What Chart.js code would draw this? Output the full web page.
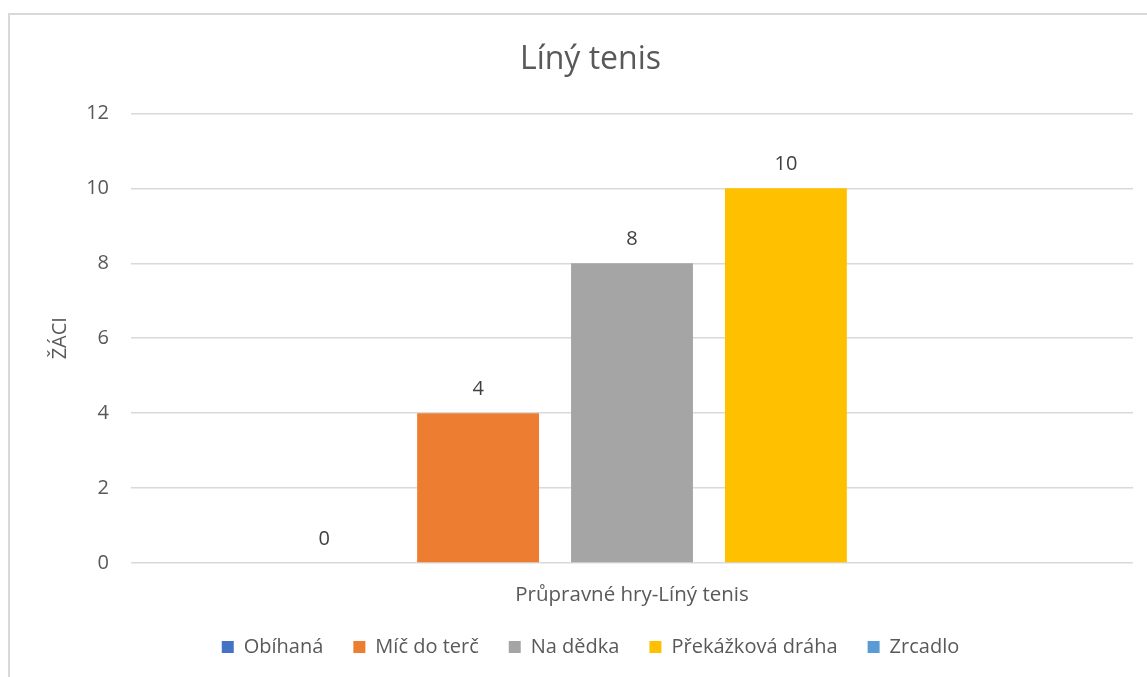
<!DOCTYPE html>
<html>
<head>
<meta charset="utf-8">
<script src="https://cdn.jsdelivr.net/npm/chart.js@4.4.1/dist/chart.umd.min.js"></script>
<style>
html,body{margin:0;padding:0;background:#fff;}
#wrap{position:relative;width:1147px;height:677px;overflow:hidden;}
#frame{position:absolute;left:8px;top:13px;width:1200px;height:800px;border:2px solid #d9d9d9;box-sizing:border-box;pointer-events:none;}
canvas{position:absolute;left:0;top:0;}
</style>
</head>
<body>
<div id="wrap">
<canvas id="c" width="1147" height="677"></canvas>
<div id="frame"></div>
</div>
<script>
const categories = ["Průpravné hry-Líný tenis"];
const seriesNames = ["Obíhaná", "Míč do terč", "Na dědka", "Překážková dráha", "Zrcadlo"];
const obihana = [0];
const micDoTerc = [4];
const naDedka = [8];
const prekazkovaDraha = [10];
const zrcadlo = [null];
const seriesColors = ["#4472C4", "#ED7D31", "#A5A5A5", "#FFC000", "#5B9BD5"];
const yTicks = [0, 2, 4, 6, 8, 10, 12];

const FONT = "'Open Sans', sans-serif";
const values = [obihana, micDoTerc, naDedka, prekazkovaDraha, zrcadlo];

const dataLabels = {
  id: 'dataLabels',
  afterDatasetsDraw(chart) {
    const ctx = chart.ctx;
    ctx.save();
    ctx.font = "20px " + FONT;
    ctx.fillStyle = "#404040";
    ctx.textAlign = "center";
    ctx.textBaseline = "middle";
    chart.data.datasets.forEach((ds, i) => {
      const meta = chart.getDatasetMeta(i);
      meta.data.forEach((bar, j) => {
        const v = ds.data[j];
        if (v === null || v === undefined) return;
        ctx.fillText(String(v), bar.x, bar.y - 24);
      });
    });
    ctx.restore();
  }
};

new Chart(document.getElementById('c'), {
  type: 'bar',
  data: {
    labels: categories,
    datasets: seriesNames.map((n, i) => ({
      label: n,
      data: values[i],
      backgroundColor: seriesColors[i],
      borderWidth: 0,
      categoryPercentage: 0.768,
      barPercentage: 0.792
    }))
  },
  options: {
    responsive: false,
    animation: false,
    devicePixelRatio: 1,
    layout: { padding: { left: 48, right: 14, top: 20, bottom: 10 } },
    plugins: {
      tooltip: { enabled: false },
      title: {
        display: true,
        text: "Líný tenis",
        color: "#595959",
        font: { family: FONT, size: 32, weight: 'normal' },
        padding: { top: 21, bottom: 34 }
      },
      legend: {
        position: 'bottom',
        labels: {
          color: "#595959",
          font: { family: FONT, size: 20 },
          boxWidth: 12,
          boxHeight: 12,
          padding: 30,
          useBorderRadius: false
        }
      }
    },
    scales: {
      x: {
        afterFit(scale) { scale.height = 44; },
        grid: { display: false },
        border: { display: false },
        ticks: { color: "#595959", font: { family: FONT, size: 20.5 }, padding: 12 }
      },
      y: {
        min: 0,
        max: 12,
        afterBuildTicks(scale) { scale.ticks = yTicks.map(v => ({ value: v })); },
        afterFit(scale) { scale.width = 83; },
        grid: { color: "#d9d9d9", lineWidth: 1.5, drawTicks: false },
        border: { display: false },
        ticks: { color: "#595959", font: { family: FONT, size: 20 }, padding: 22 },
        title: {
          display: true,
          text: "ŽÁCI",
          color: "#595959",
          font: { family: FONT, size: 20 },
          padding: { top: 0, bottom: 0 }
        }
      }
    }
  },
  plugins: [dataLabels]
});
</script>
</body>
</html>
